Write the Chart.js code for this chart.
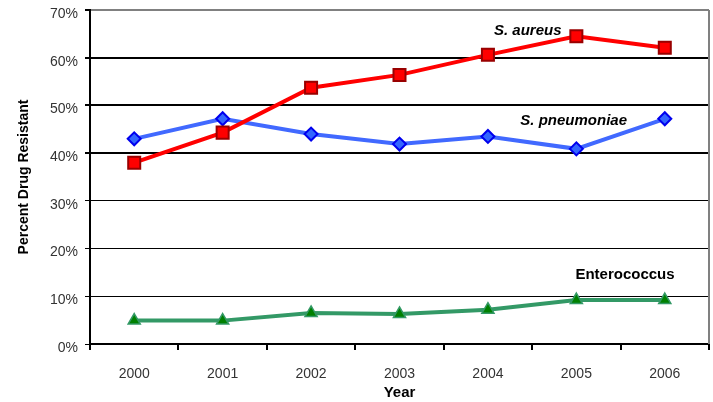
<!DOCTYPE html>
<html>
<head>
<meta charset="utf-8">
<script src="https://cdn.jsdelivr.net/npm/chart.js@4/dist/chart.umd.min.js"></script>
<style>
  html, body { margin: 0; padding: 0; background: #fff; }
</style>
</head>
<body>
<canvas id="resistChart" width="713" height="402"></canvas>
<script>
const years = ['2000', '2001', '2002', '2003', '2004', '2005', '2006'];
const aureus = [38.0, 44.3, 53.7, 56.4, 60.6, 64.5, 62.1];
const pneumoniae = [43.0, 47.2, 44.0, 41.9, 43.5, 40.9, 47.2];
const enterococcus = [4.9, 4.9, 6.5, 6.3, 7.2, 9.2, 9.2];

// series labels: text, category index, value
const seriesLabels = [
    { text: 'S. aureus', x: 4.45, y: 65.7, italic: true },
    { text: 'S. pneumoniae', x: 4.97, y: 46.8, italic: true },
    { text: 'Enterococcus', x: 5.55, y: 14.4, italic: false }
];

const tickFont = '"Liberation Sans", Arial, sans-serif';

const labelPlugin = {
    id: 'seriesLabels',
    afterDatasetsDraw(chart) {
        const ctx = chart.ctx;
        const xs = chart.scales.x, ys = chart.scales.y;
        const step = xs.getPixelForValue(1) - xs.getPixelForValue(0);
        ctx.save();
        ctx.fillStyle = '#000';
        ctx.textAlign = 'center';
        ctx.textBaseline = 'middle';
        seriesLabels.forEach(l => {
            ctx.font = (l.italic ? 'italic ' : '') + 'bold 15px "Liberation Sans", Arial, sans-serif';
            ctx.fillText(l.text, xs.getPixelForValue(0) + l.x * step, ys.getPixelForValue(l.y));
        });
        ctx.restore();
    }
};

const framePlugin = {
    id: 'frame',
    beforeDatasetsDraw(chart) {
        const a = chart.chartArea;
        const ctx = chart.ctx;
        ctx.save();
        ctx.strokeStyle = '#808080';
        ctx.lineWidth = 2;
        ctx.beginPath();
        ctx.moveTo(a.right, a.top);
        ctx.lineTo(a.right, a.bottom);
        ctx.stroke();
        ctx.restore();
    }
};

new Chart(document.getElementById('resistChart').getContext('2d'), {
    type: 'line',
    data: {
        labels: years,
        datasets: [
            {
                label: 'S. aureus',
                data: aureus,
                borderColor: '#ff0000',
                borderWidth: 4,
                pointStyle: 'rect',
                pointRadius: 8.5,
                pointBackgroundColor: '#ff0000',
                pointBorderColor: '#990000',
                pointBorderWidth: 2,
                tension: 0
            },
            {
                label: 'S. pneumoniae',
                data: pneumoniae,
                borderColor: '#4169ff',
                borderWidth: 4,
                pointStyle: 'rectRot',
                pointRadius: 6.5,
                pointBackgroundColor: '#3366ff',
                pointBorderColor: '#0000ee',
                pointBorderWidth: 2,
                tension: 0
            },
            {
                label: 'Enterococcus',
                data: enterococcus,
                borderColor: '#339966',
                borderWidth: 4,
                pointStyle: 'triangle',
                pointRadius: 7,
                pointBackgroundColor: '#008000',
                pointBorderColor: '#339966',
                pointBorderWidth: 1.5,
                tension: 0
            }
        ]
    },
    options: {
        responsive: false,
        animation: false,
        layout: { autoPadding: false, padding: { left: 0, right: 4, top: 10, bottom: 0 } },
        plugins: {
            legend: { display: false },
            tooltip: { enabled: false }
        },
        scales: {
            x: {
                offset: true,
                grid: {
                    offset: true,
                    drawOnChartArea: false,
                    tickLength: 6,
                    color: '#000',
                    lineWidth: 2
                },
                border: { color: '#000', width: 2 },
                ticks: {
                    color: '#333',
                    padding: 16,
                    font: { family: tickFont, size: 14 }
                },
                title: {
                    display: true,
                    text: 'Year',
                    color: '#000',
                    padding: { top: 2, bottom: 0 },
                    font: { family: '"Liberation Sans", Arial, sans-serif', size: 15, weight: 'bold' }
                },
                afterFit(scale) {
                    scale.height = 58;
                    scale.paddingLeft = 0;
                    scale.paddingRight = 0;
                }
            },
            y: {
                min: 0,
                max: 70,
                ticks: {
                    stepSize: 10,
                    color: '#333',
                    padding: 7,
                    labelOffset: 4,
                    callback: v => v + '%',
                    font: { family: tickFont, size: 14 }
                },
                grid: {
                    tickLength: 5,
                    tickColor: '#000',
                    color: c => c.tick && c.tick.value === 70 ? '#808080' : '#000',
                    lineWidth: c => {
                        const v = c.tick ? c.tick.value : 0;
                        return (v >= 40 && v <= 70) ? 2 : 1;
                    }
                },
                border: { color: '#000', width: 2 },
                title: {
                    display: true,
                    text: 'Percent Drug Resistant',
                    color: '#000',
                    padding: { top: 16, bottom: 0 },
                    font: { family: '"Liberation Sans", Arial, sans-serif', size: 14, weight: 'bold' }
                },
                afterFit(scale) {
                    scale.width = 90;
                    scale.paddingTop = 0;
                    scale.paddingBottom = 0;
                }
            }
        }
    },
    plugins: [framePlugin, labelPlugin]
});
</script>
</body>
</html>
